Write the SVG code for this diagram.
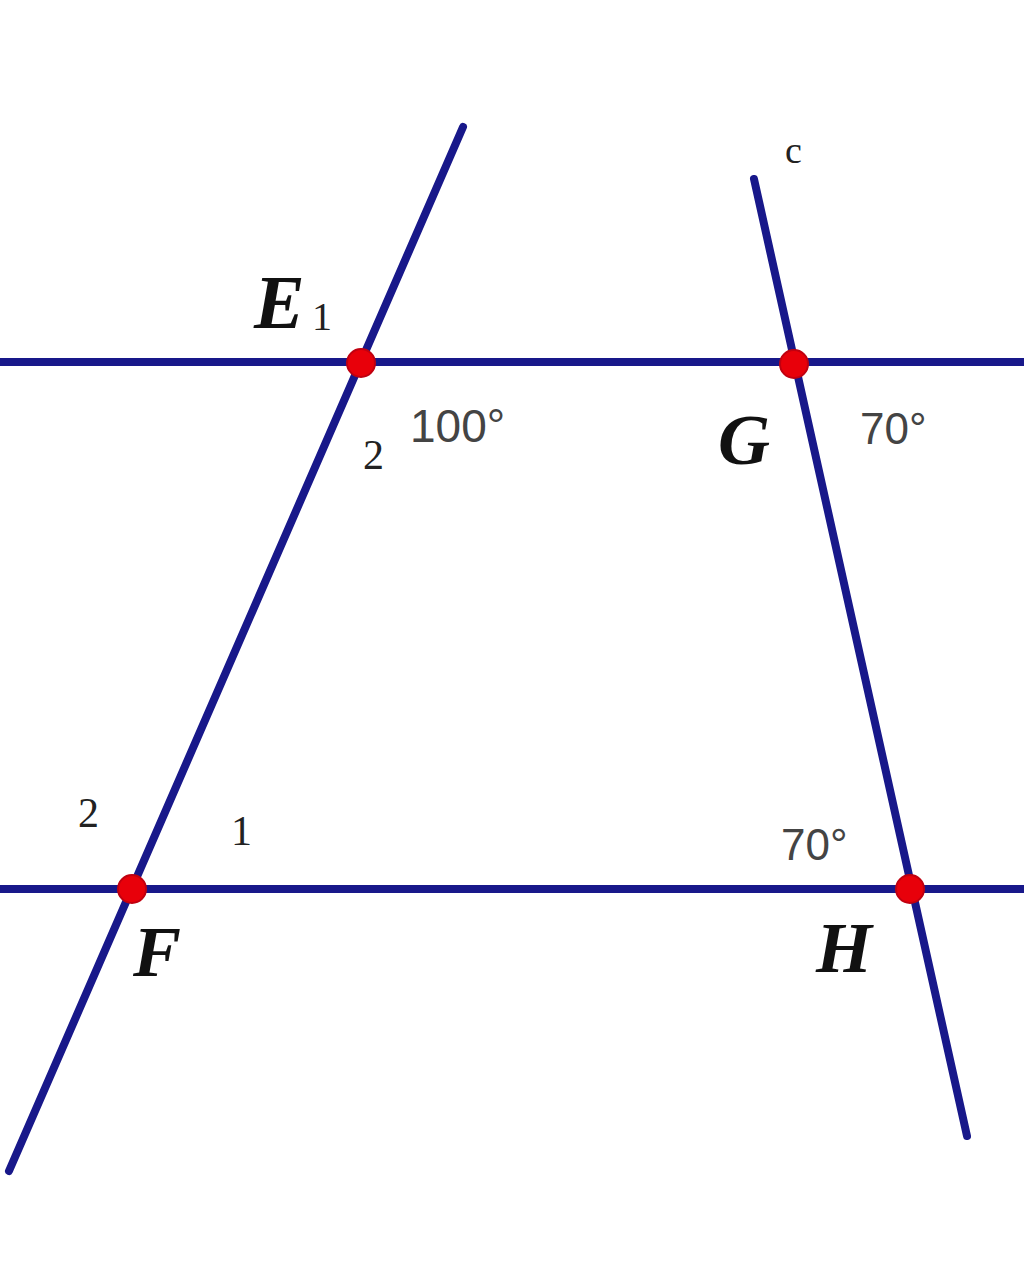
<svg xmlns="http://www.w3.org/2000/svg" width="1024" height="1282" viewBox="0 0 1024 1282">
<style>
.ln{stroke:#18188a;stroke-width:8;stroke-linecap:round;fill:none}
.pt{fill:#e8000a;stroke:#c00010;stroke-width:2}
.lbl{font-family:"Liberation Serif","DejaVu Serif",serif;font-weight:bold;font-style:italic;fill:#111}
.num{font-family:"Liberation Serif","DejaVu Serif",serif;fill:#222}
.deg{font-family:"Liberation Sans","DejaVu Sans",sans-serif;fill:#444}
</style>
<rect width="1024" height="1282" fill="#ffffff"/>
<g id="connectors">
<line class="ln" x1="-5" y1="362" x2="1030" y2="362"/>
<line class="ln" x1="-5" y1="889" x2="1030" y2="889"/>
<line class="ln" x1="463" y1="127" x2="9" y2="1171"/>
<line class="ln" x1="754" y1="179" x2="967" y2="1136"/>
</g>
<g id="E"><circle class="pt" cx="361" cy="363" r="14"/><text class="lbl" x="254" y="328" font-size="76">E</text><text class="num" x="312" y="330" font-size="40">1</text></g>
<g id="G"><circle class="pt" cx="794" cy="364" r="14"/><text class="lbl" x="718" y="464" font-size="72" font-style="normal">G</text></g>
<g id="F"><circle class="pt" cx="132" cy="889" r="14"/><text class="lbl" x="133" y="976" font-size="72">F</text></g>
<g id="H"><circle class="pt" cx="910" cy="889" r="14"/><text class="lbl" x="816" y="972" font-size="72">H</text></g>
<g id="labels">
<text class="num" x="785" y="163" font-size="38">c</text>
<text class="num" x="363" y="469" font-size="42">2</text>
<text class="deg" x="410" y="442" font-size="46">100°</text>
<text class="deg" x="860" y="444" font-size="44">70°</text>
<text class="num" x="78" y="827" font-size="42">2</text>
<text class="num" x="231" y="845" font-size="42">1</text>
<text class="deg" x="781" y="860" font-size="44">70°</text>
</g>
</svg>
